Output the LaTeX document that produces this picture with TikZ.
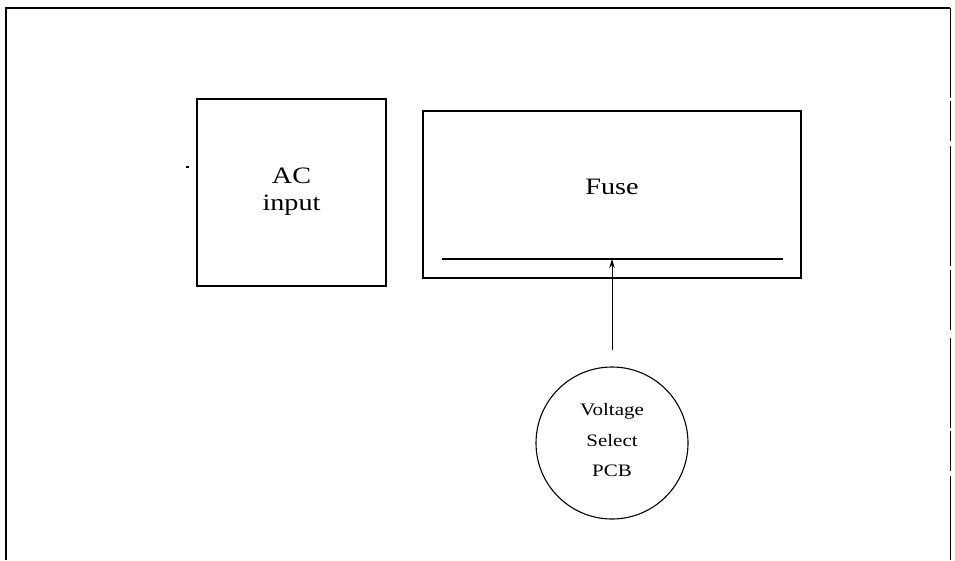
\documentclass[tikz,border=0pt]{standalone}
\usepackage{fontspec}
\setmainfont{Liberation Serif}
\newfontfamily\widefont[FakeStretch=1.2]{Liberation Serif}
\usetikzlibrary{arrows.meta}
\begin{document}
\begin{tikzpicture}[x=1pt,y=-1pt,
  blockbox/.style={draw,line width=1.6pt,inner sep=0pt},
  bigtext/.style={font=\widefont\fontsize{23.5}{30}\selectfont,align=center},
  smalltext/.style={font=\widefont\fontsize{17.5}{33}\selectfont,align=center},
  link/.style={line width=1pt,-{Stealth[length=9pt,width=5.5pt]}}]
\useasboundingbox (0,0) rectangle (955,560);
% outer frame, open at the bottom
\draw[line width=2.8pt] (6,560) -- (6,8) -- (950,8);
\draw[line width=0.9pt,dash pattern=on 90pt off 3pt on 40pt off 5pt on 120pt off 4pt on 60pt off 8pt] (950,8) -- (950,560);
% AC input block
\node[blockbox,minimum width=189pt,minimum height=187pt] (ac) at (291.5,192.5) {};
\node[bigtext] (actext) at (291.5,192) {AC\\[-3pt]input};
\draw[line width=1.6pt] (185.5,167) -- (188.5,167);
% fuse block with its holder bar
\node[blockbox,minimum width=378pt,minimum height=167pt] (fuse) at (612,194.5) {};
\node[bigtext] (fusetext) at (612,187) {Fuse};
\coordinate (barl) at (442,259);
\coordinate (barr) at (783,259);
\coordinate (bartap) at (612,259);
\draw[line width=1.6pt] (barl) -- (barr);
% voltage select board
\node[draw,circle,line width=1.1pt,minimum size=152pt,inner sep=0pt] (pcb) at (612,443) {};
\node[smalltext] (pcbtext) at (612,440) {Voltage\\[-2pt]Select\\[-3pt]PCB};
\coordinate (tail) at (612,350);
\draw[link] (tail) -- (bartap);
\end{tikzpicture}
\end{document}
